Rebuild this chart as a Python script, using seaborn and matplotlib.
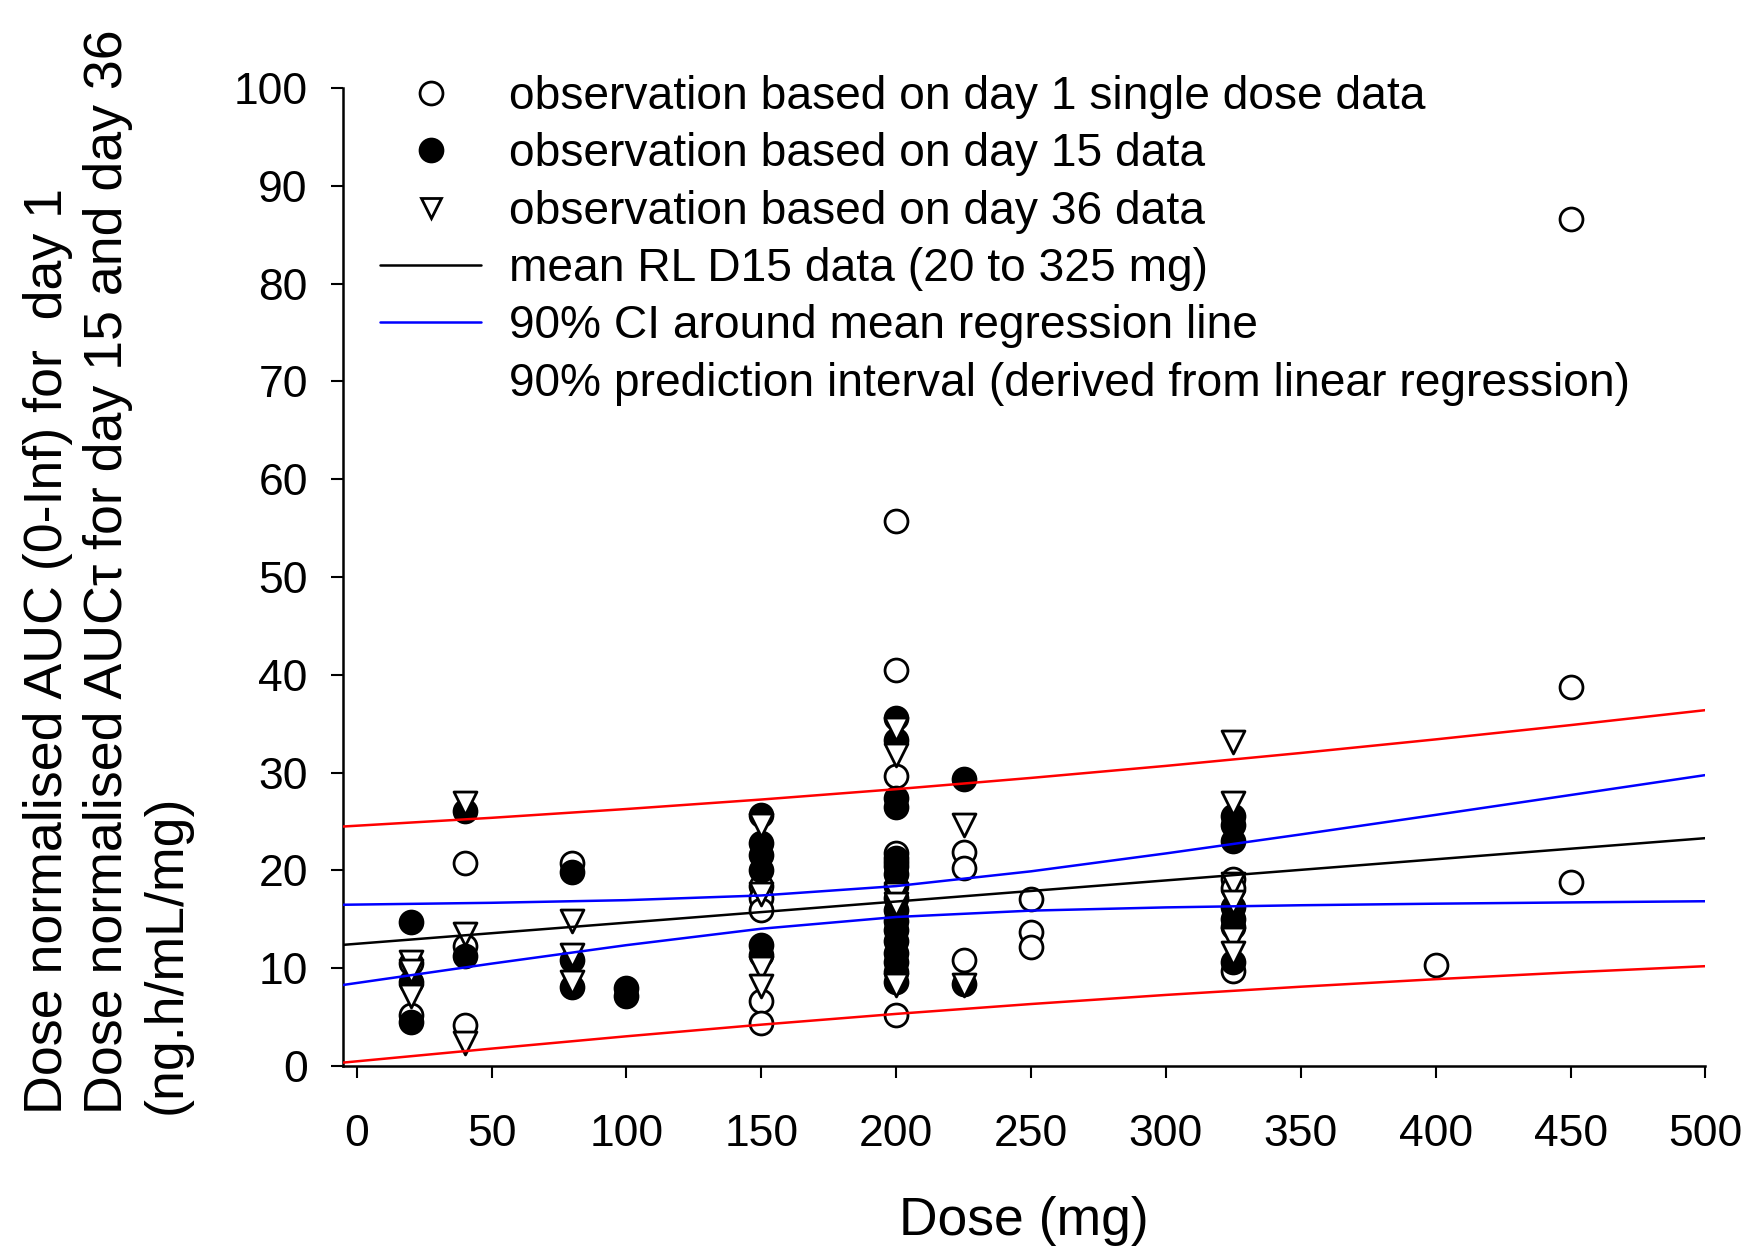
import numpy as np
import pandas as pd
import seaborn as sns
import matplotlib.pyplot as plt
from matplotlib.lines import Line2D

# day 1 single dose observations (open circles)
d1_dose = [20, 20, 40, 40, 40, 80, 150, 150, 150, 150, 150,
           200, 200, 200, 200, 200, 200, 225, 225, 225, 250, 250, 250,
           325, 325, 325, 400, 450, 450, 450]
d1_auc = [10.5, 5.2, 20.8, 12.3, 4.2, 20.8, 18.4, 17.2, 16.0, 6.6, 4.4,
          55.7, 40.5, 29.7, 21.8, 20.9, 5.2, 21.9, 20.2, 10.8, 17.1, 13.7, 12.2,
          19.1, 18.2, 9.7, 10.3, 86.6, 38.8, 18.8]

# day 15 observations (filled circles)
d15_dose = [20, 20, 20, 40, 40, 80, 80, 80, 100, 100,
            150, 150, 150, 150, 150, 150,
            200, 200, 200, 200, 200, 200, 200, 200, 200, 200, 200, 200, 200, 200, 200, 200, 200,
            225, 225, 325, 325, 325, 325, 325, 325, 325]
d15_auc = [14.7, 8.6, 4.5, 26.1, 11.2, 19.8, 10.8, 8.1, 8.0, 7.2,
           25.7, 22.8, 21.6, 20.0, 12.4, 11.4,
           35.6, 33.3, 27.4, 26.5, 21.3, 20.5, 19.6, 18.4, 17.2, 16.0, 14.8, 13.9, 12.8, 11.6, 10.6, 9.6, 8.6,
           29.3, 8.4, 25.6, 24.6, 23.0, 16.3, 15.0, 14.2, 10.6]

# day 36 observations (open triangles)
d36_dose = [20, 20, 20, 40, 40, 40, 80, 80, 80, 150, 150, 150, 150,
            200, 200, 200, 200, 200, 225, 225, 325, 325, 325, 325, 325, 325]
d36_auc = [10.6, 9.7, 7.2, 26.9, 13.5, 2.4, 14.8, 11.4, 8.6, 24.6, 17.6, 10.0, 8.2,
           34.5, 31.8, 17.6, 16.6, 8.3, 24.6, 8.3, 33.1, 26.9, 18.6, 16.8, 13.0, 11.6]

# regression line and intervals
line_dose = [-5, 50, 100, 150, 200, 250, 300, 350, 400, 450, 500]
mean_rl = [12.39, 13.58, 14.66, 15.74, 16.82, 17.90, 18.98, 20.06, 21.14, 22.22, 23.30]
ci_upper = [16.49, 16.69, 16.96, 17.44, 18.40, 19.91, 21.74, 23.68, 25.68, 27.71, 29.75]
ci_lower = [8.29, 10.47, 12.36, 14.04, 15.24, 15.89, 16.22, 16.44, 16.60, 16.73, 16.85]
pi_upper = [24.49, 25.38, 26.28, 27.25, 28.31, 29.46, 30.69, 32.01, 33.40, 34.86, 36.39]
pi_lower = [0.35, 1.78, 3.04, 4.23, 5.33, 6.34, 7.27, 8.11, 8.88, 9.58, 10.21]

x_ticks = [0, 50, 100, 150, 200, 250, 300, 350, 400, 450, 500]
y_ticks = [0, 10, 20, 30, 40, 50, 60, 70, 80, 90, 100]

labels = ["observation based on day 1 single dose data",
          "observation based on day 15 data",
          "observation based on day 36 data",
          "mean RL D15 data (20 to 325 mg)",
          "90% CI around mean regression line",
          "90% prediction interval (derived from linear regression)"]

sns.set_style("ticks")
plt.rcParams['font.family'] = ['Liberation Sans', 'DejaVu Sans']
plt.rcParams['text.color'] = 'black'
plt.rcParams['axes.labelcolor'] = 'black'
plt.rcParams['xtick.color'] = 'black'
plt.rcParams['ytick.color'] = 'black'

fig = plt.figure(figsize=(17.51, 12.49), dpi=100)
ax = fig.add_axes([0.196, 0.1465, 0.778, 0.783])

ms = 16.5
sns.scatterplot(x=d1_dose, y=d1_auc, marker='o', s=ms**2, color='white',
                edgecolor='black', linewidth=2, ax=ax, zorder=2)
sns.scatterplot(x=d15_dose, y=d15_auc, marker='o', s=ms**2, color='black',
                edgecolor='black', linewidth=2, ax=ax, zorder=3)
sns.scatterplot(x=d36_dose, y=d36_auc, marker='v', s=ms**2, color='white',
                edgecolor='black', linewidth=2, ax=ax, zorder=4)

lw = 1.8
sns.lineplot(x=line_dose, y=mean_rl, color='black', lw=lw, estimator=None, ax=ax, zorder=5)
sns.lineplot(x=line_dose, y=ci_upper, color='blue', lw=lw, estimator=None, ax=ax, zorder=5)
sns.lineplot(x=line_dose, y=ci_lower, color='blue', lw=lw, estimator=None, ax=ax, zorder=5)
sns.lineplot(x=line_dose, y=pi_upper, color='red', lw=lw, estimator=None, ax=ax, zorder=5)
sns.lineplot(x=line_dose, y=pi_lower, color='red', lw=lw, estimator=None, ax=ax, zorder=5)

ax.set_xlim(-5, 500)
ax.set_ylim(0, 100)
ax.set_xticks(x_ticks)
ax.set_yticks(y_ticks)
for s in ['top', 'right']:
    ax.spines[s].set_visible(False)
for s in ['left', 'bottom']:
    ax.spines[s].set_linewidth(1.8)
    ax.spines[s].set_color('black')
ax.tick_params(axis='both', direction='out', length=8.5, width=1.5, colors='black', labelsize=32)
ax.tick_params(axis='x', pad=26)
ax.tick_params(axis='y', pad=17)

ax.set_xlabel("Dose (mg)", fontsize=38.5)
ax.xaxis.set_label_coords(0.5, -0.133)
ax.set_ylabel("Dose normalised AUC (0-Inf) for  day 1\n"
              "Dose normalised AUCτ for day 15 and day 36\n"
              "(ng.h/mL/mg)", fontsize=38.7, multialignment='left', linespacing=1.24)
ax.yaxis.set_label_coords(-0.111, 0.505)

handles = [
    Line2D([], [], ls='none', marker='o', ms=ms, mfc='white', mec='black', mew=2),
    Line2D([], [], ls='none', marker='o', ms=ms, mfc='black', mec='black', mew=2),
    Line2D([], [], ls='none', marker='v', ms=ms - 1.5, mfc='white', mec='black', mew=2),
    Line2D([], [], color='black', lw=lw),
    Line2D([], [], color='blue', lw=lw),
    Line2D([], [], color='none', lw=lw),
]
ax.legend(handles, labels, loc='upper left', bbox_to_anchor=(380 / 1751, 1 - 75 / 1249),
          bbox_transform=fig.transFigure, frameon=False, fontsize=33.2,
          handlelength=2.2, handletextpad=0.6, labelspacing=0.29,
          borderpad=0, borderaxespad=0)

fig.savefig("out.png", dpi=100)
